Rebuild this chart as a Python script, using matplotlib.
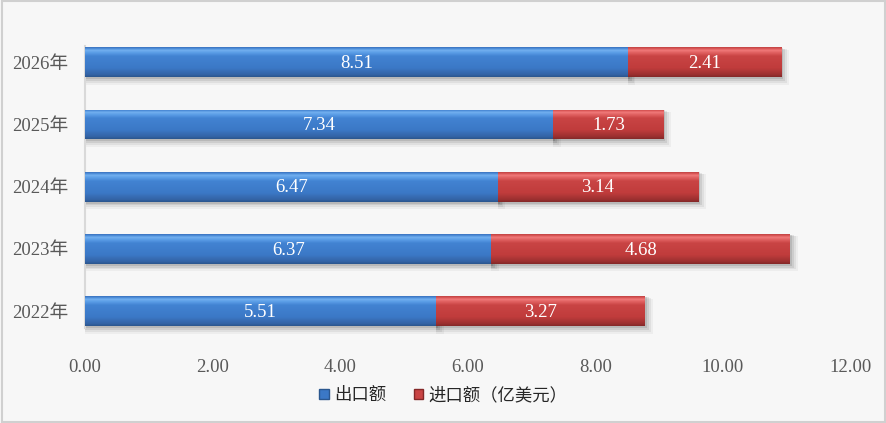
import matplotlib.pyplot as plt
import numpy as np
from matplotlib.patches import Patch
from matplotlib.colors import LinearSegmentedColormap

years = ['2022年', '2023年', '2024年', '2025年', '2026年']
export_vals = [5.51, 6.37, 6.47, 7.34, 8.51]  # 出口额
import_vals = [3.27, 4.68, 3.14, 1.73, 2.41]  # 进口额
x_ticks = [0, 2, 4, 6, 8, 10, 12]

serif = ['Liberation Serif', 'Noto Sans CJK SC']
cjk = ['Noto Sans CJK SC', 'DejaVu Sans']

# vertical gradients (bottom -> top) to mimic the bevel look
blue_cmap = LinearSegmentedColormap.from_list('b', [
    (0.0, '#2b578f'), (0.08, '#3464a6'), (0.3, '#3b78c6'), (0.7, '#4283d2'),
    (0.82, '#5a9de6'), (0.9, '#73b0ef'), (0.95, '#4f8fdb'), (1.0, '#3c74c0')])
red_cmap = LinearSegmentedColormap.from_list('r', [
    (0.0, '#842828'), (0.08, '#9c3030'), (0.3, '#c03c3c'), (0.7, '#c94444'),
    (0.82, '#e06060'), (0.9, '#f07a7a'), (0.95, '#dc5858'), (1.0, '#c24444')])

fig = plt.figure(figsize=(8.87, 4.23), dpi=100, facecolor='#f7f7f7')
ax = fig.add_axes([0.0958, 0.191, 0.863, 0.735])
ax.set_facecolor('#f7f7f7')

ypos = np.arange(len(years))
h = 0.48
grad = np.linspace(0, 1, 64).reshape(-1, 1)


def draw_bar(y, left, width, cmap, label):
    # soft drop shadow
    for k, a in enumerate([0.04, 0.06, 0.08, 0.10]):
        off = 0.025 * (4 - k)
        ax.barh(y - off * 0.8, width + off * 1.2, left=left, height=h + off * 0.8,
                color='black', alpha=a, linewidth=0, zorder=1)
    bars = ax.barh(y, width, left=left, height=h, color='none', linewidth=0, zorder=2)
    patch = bars[0]
    im = ax.imshow(grad, cmap=cmap, aspect='auto', origin='lower',
                   extent=(left, left + width, y - h / 2, y + h / 2), zorder=3)
    im.set_clip_path(patch)
    ax.text(left + width / 2, y - 0.02, label, ha='center', va='center', color='white',
            fontsize=13.5, family=serif, zorder=5)


for i in range(len(years)):
    draw_bar(ypos[i], 0, export_vals[i], blue_cmap, '%.2f' % export_vals[i])
    draw_bar(ypos[i], export_vals[i], import_vals[i], red_cmap, '%.2f' % import_vals[i])

ax.set_xlim(0, 12)
ax.set_ylim(-0.5, len(years) - 0.5)
ax.set_xticks(x_ticks)
ax.set_xticklabels(['%.2f' % v for v in x_ticks], family=serif, fontsize=13.5, color='#595959')
ax.set_yticks(ypos)
ax.set_yticklabels(years, family=serif, fontsize=13.5, color='#595959')
ax.tick_params(length=0, pad=12)
ax.tick_params(axis='y', pad=12)
for s in ['top', 'right', 'bottom']:
    ax.spines[s].set_visible(False)
ax.spines['left'].set_color('#d9d9d9')
ax.spines['left'].set_linewidth(1.5)
ax.spines['left'].set_bounds(-0.27, 4.27)

handles = [Patch(facecolor='#3b78c6', edgecolor='#2b578f', label='出口额'),
           Patch(facecolor='#c94444', edgecolor='#842828', label='进口额（亿美元）')]
leg = fig.legend(handles=handles, loc='lower center', bbox_to_anchor=(0.5, 0.008), ncol=2,
                 frameon=False, prop={'family': cjk, 'size': 12.5}, handlelength=0.55,
                 handleheight=0.55, handletextpad=0.3, columnspacing=1.6)
for t in leg.get_texts():
    t.set_color('#262626')

# outer border
fig.patches.append(plt.Rectangle((0.002, 0.003), 0.996, 0.994, transform=fig.transFigure,
                                 fill=False, edgecolor='#d0d0d0', linewidth=1.5))

fig.savefig('out.png', dpi=100, facecolor=fig.get_facecolor())
